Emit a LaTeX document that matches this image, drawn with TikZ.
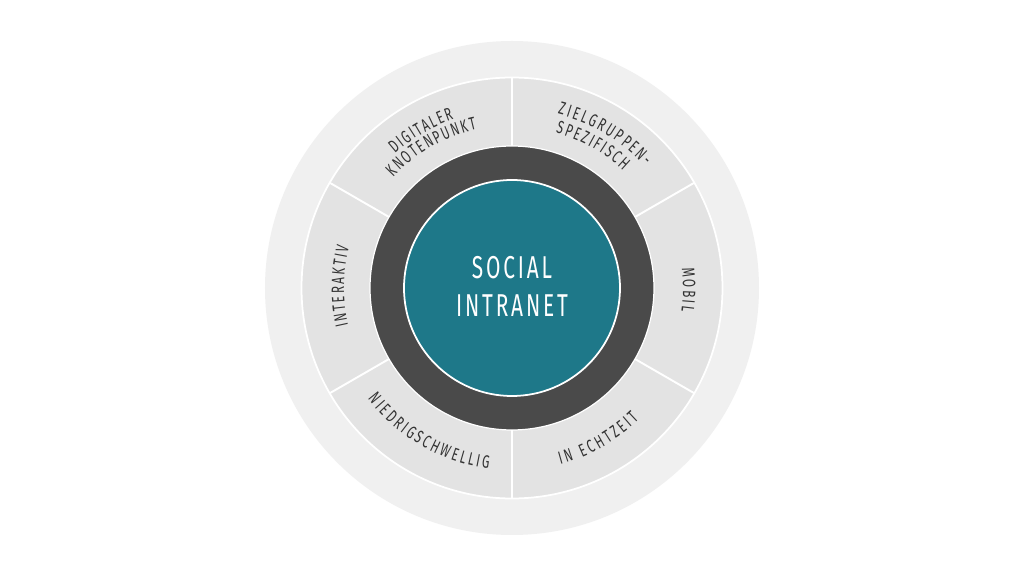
\documentclass[tikz,border=0pt]{standalone}
\usepackage{fontspec}
\usetikzlibrary{decorations.text}
\newfontfamily\segfont[FakeStretch=0.66]{Fira Sans}
\newfontfamily\ctrfont[FakeStretch=0.66,LetterSpace=9]{Fira Sans}
\definecolor{outerc}{HTML}{F0F0F0}
\definecolor{segc}{HTML}{E3E3E3}
\definecolor{darkc}{HTML}{4A4A4A}
\definecolor{tealc}{HTML}{1E7889}
\definecolor{txtc}{HTML}{333333}
\tikzset{
  seglabel/.style={decorate, decoration={text along path, text align={fit to path}, text={|\segfont\fontsize{10.2}{12}\selectfont\color{txtc}|#1}}},
  divider/.style={draw=white, line width=1.1pt},
  ctrtext/.style={text=white, font=\ctrfont\fontsize{18}{21}\selectfont, anchor=base, inner sep=0pt}
}
\begin{document}
\begin{tikzpicture}[scale=0.02]
\useasboundingbox (-512,-288) rectangle (512,288);
\fill[white] (-512,-288) rectangle (512,288);
\fill[outerc] (0,0) circle[radius=247];
\filldraw[fill=segc, draw=white, line width=1pt] (0,0) circle[radius=210.5];
\coordinate (c) at (0,0);
\foreach \a in {30,90,150,210,270,330}{
  \draw[divider] (\a:141) -- (\a:211);
}
\filldraw[fill=darkc, draw=white, line width=0.7pt] (0,0) circle[radius=142];
\filldraw[fill=tealc, draw=white, line width=1pt] (0,0) circle[radius=108];
\node[ctrtext] (l1) at (0,9.5) {SOCIAL};
\node[ctrtext] (l2) at (0,-28.5) {INTRANET};
% curved labels
\path[seglabel={DIGITALER}] (131:178.5) arc[start angle=131, end angle=109, radius=178.5];
\path[seglabel={KNOTENPUNKT}] (137:162.5) arc[start angle=137, end angle=102.5, radius=162.5];
\path[seglabel={ZIELGRUPPEN-}] (75.3:180) arc[start angle=75.3, end angle=42.5, radius=180];
\path[seglabel={SPEZIFISCH}] (74.3:161.5) arc[start angle=74.3, end angle=46.5, radius=161.5];
\path[seglabel={MOBIL}] (6.5:171) arc[start angle=6.5, end angle=-7.8, radius=171];
\path[seglabel={INTERAKTIV}] (192.9:168) arc[start angle=192.9, end angle=165.8, radius=168];
\path[seglabel={NIEDRIGSCHWELLIG}] (217.5:182) arc[start angle=217.5, end angle=262.7, radius=182];
\path[seglabel={IN ECHTZEIT}] (285.3:183) arc[start angle=285.3, end angle=314, radius=183];
\end{tikzpicture}
\end{document}
